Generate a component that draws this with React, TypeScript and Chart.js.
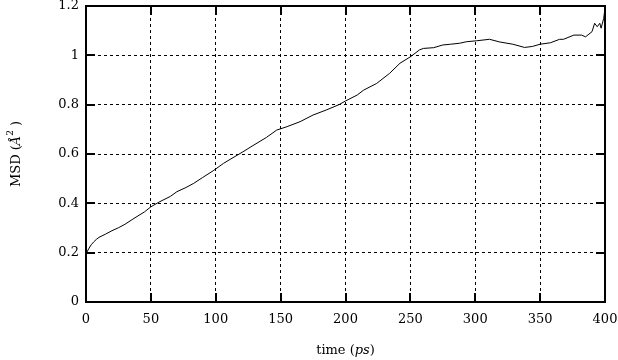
import React, { useEffect, useRef } from "react";
import { Chart, registerables } from "chart.js";

Chart.register(...registerables);

const times = [0, 2, 4, 6, 8, 10, 15, 20, 25, 30, 37, 45, 50, 57, 65, 70, 77, 83, 90, 98, 106, 111, 121, 128, 139, 147, 155, 165, 175, 185, 195, 200, 209, 214, 224, 234, 242, 250, 257, 260, 268, 275, 281, 288, 293, 301, 311, 319, 329, 338, 344, 350, 358, 365, 368, 376, 382, 385, 390, 392, 394, 396, 397, 399, 400];
const msd = [0.195, 0.215, 0.232, 0.244, 0.254, 0.262, 0.275, 0.289, 0.301, 0.315, 0.339, 0.365, 0.386, 0.407, 0.428, 0.447, 0.464, 0.481, 0.505, 0.532, 0.562, 0.578, 0.609, 0.632, 0.667, 0.697, 0.711, 0.731, 0.758, 0.778, 0.8, 0.815, 0.839, 0.859, 0.886, 0.927, 0.968, 0.994, 1.022, 1.028, 1.031, 1.042, 1.045, 1.049, 1.055, 1.059, 1.065, 1.054, 1.045, 1.032, 1.036, 1.045, 1.051, 1.065, 1.065, 1.082, 1.082, 1.075, 1.096, 1.13, 1.116, 1.13, 1.11, 1.15, 1.19];

const xTicks = [0, 50, 100, 150, 200, 250, 300, 350, 400];
const yTicks = [0, 0.2, 0.4, 0.6, 0.8, 1, 1.2];

const FONT = "'DejaVu Serif', 'Liberation Serif', serif";

const framePlugin = {
  id: "frame",
  afterDraw(chart: any) {
    const { ctx, chartArea } = chart;
    const { left, right, top, bottom } = chartArea;
    const xs = chart.scales.x;
    const ys = chart.scales.y;
    ctx.save();
    ctx.setLineDash([]);
    ctx.strokeStyle = "#000";
    ctx.lineWidth = 2;
    const tl = 9;
    ctx.beginPath();
    xTicks.forEach((v) => {
      const px = Math.round(xs.getPixelForValue(v));
      ctx.moveTo(px, bottom);
      ctx.lineTo(px, bottom - tl);
      ctx.moveTo(px, top);
      ctx.lineTo(px, top + tl);
    });
    yTicks.forEach((v) => {
      const py = Math.round(ys.getPixelForValue(v));
      ctx.moveTo(left, py);
      ctx.lineTo(left + tl, py);
      ctx.moveTo(right, py);
      ctx.lineTo(right - tl, py);
    });
    ctx.stroke();
    ctx.beginPath();
    ctx.rect(left, top, right - left, bottom - top);
    ctx.stroke();

    // axis titles
    ctx.fillStyle = "#000";
    ctx.textBaseline = "middle";
    const parts = [
      { t: "time (", f: `13px ${FONT}` },
      { t: "ps", f: `italic 13px ${FONT}` },
      { t: ")", f: `13px ${FONT}` },
    ];
    let total = 0;
    parts.forEach((p) => {
      ctx.font = p.f;
      total += ctx.measureText(p.t).width;
    });
    let x = (left + right) / 2 - total / 2;
    ctx.textAlign = "left";
    parts.forEach((p) => {
      ctx.font = p.f;
      ctx.fillText(p.t, x, 351);
      x += ctx.measureText(p.t).width;
    });

    ctx.translate(17, (top + bottom) / 2);
    ctx.rotate(-Math.PI / 2);
    const yparts = [
      { t: "MSD (", f: `13px ${FONT}`, dy: 0 },
      { t: "Å", f: `italic 13px ${FONT}`, dy: 0 },
      { t: "2", f: `9px ${FONT}`, dy: -6 },
      { t: " )", f: `13px ${FONT}`, dy: 0 },
    ];
    total = 0;
    yparts.forEach((p) => {
      ctx.font = p.f;
      total += ctx.measureText(p.t).width;
    });
    x = -total / 2;
    yparts.forEach((p) => {
      ctx.font = p.f;
      ctx.fillText(p.t, x, p.dy);
      x += ctx.measureText(p.t).width;
    });
    ctx.restore();
  },
};

export default function App() {
  const ref = useRef<HTMLCanvasElement>(null);
  useEffect(() => {
    document.body.style.margin = "0";
    const chart = new Chart(ref.current!, {
      type: "line",
      data: {
        datasets: [
          {
            data: times.map((t, i) => ({ x: t, y: msd[i] })),
            borderColor: "#000",
            borderWidth: 1,
            pointRadius: 0,
            tension: 0,
            fill: false,
          },
        ],
      },
      options: {
        responsive: false,
        animation: false,
        layout: { padding: { left: 0, right: 13, top: 6, bottom: 0 } },
        plugins: { legend: { display: false }, tooltip: { enabled: false } },
        scales: {
          x: {
            type: "linear",
            min: 0,
            max: 400,
            afterBuildTicks: (s: any) => {
              s.ticks = xTicks.map((v) => ({ value: v }));
            },
            afterFit: (s: any) => {
              s.height = 58;
              s.paddingLeft = 0;
              s.paddingRight = 0;
            },
            border: { display: false, dash: [3, 3] },
            grid: {
              color: (c: any) => (c.tick && (c.tick.value === 0 || c.tick.value === 400) ? "rgba(0,0,0,0)" : "#000"),
              lineWidth: 1,
              drawTicks: false,
              tickLength: 0,
            },
            ticks: {
              color: "#000",
              font: { family: FONT, size: 13 },
              padding: 10,
              maxRotation: 0,
              autoSkip: false,
              callback: (v: any) => String(v),
            },
          } as any,
          y: {
            type: "linear",
            min: 0,
            max: 1.2,
            afterBuildTicks: (s: any) => {
              s.ticks = yTicks.map((v) => ({ value: v }));
            },
            afterFit: (s: any) => {
              s.width = 86;
              s.paddingTop = 0;
              s.paddingBottom = 0;
            },
            border: { display: false, dash: [3, 3] },
            grid: {
              color: (c: any) => (c.tick && (c.tick.value === 0 || Math.abs(c.tick.value - 1.2) < 1e-9) ? "rgba(0,0,0,0)" : "#000"),
              lineWidth: 1,
              drawTicks: false,
              tickLength: 0,
            },
            ticks: {
              color: "#000",
              font: { family: FONT, size: 13 },
              padding: 7,
              autoSkip: false,
              callback: (v: any) => String(Math.round(v * 10) / 10),
            },
          } as any,
        },
      },
      plugins: [framePlugin],
    });
    return () => chart.destroy();
  }, []);
  return <canvas ref={ref} width={618} height={360} style={{ display: "block" }} />;
}
